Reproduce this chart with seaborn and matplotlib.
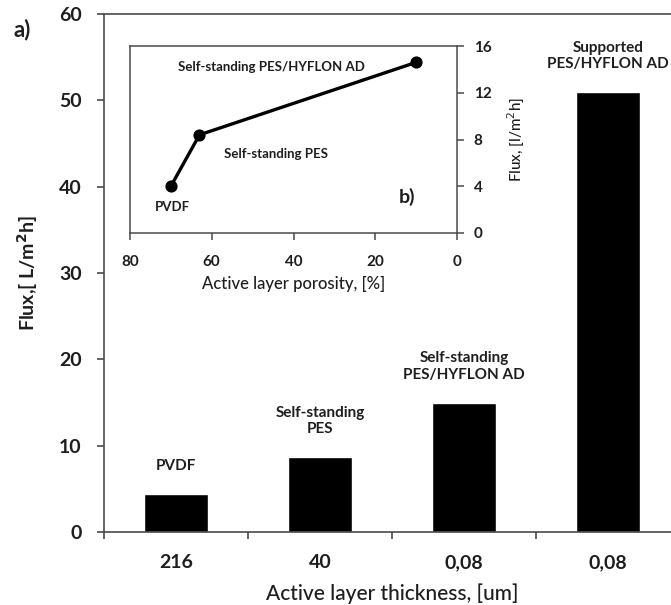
import matplotlib
matplotlib.use("Agg")
import matplotlib.pyplot as plt
import seaborn as sns
import pandas as pd

# Main chart: flux versus active layer thickness
membranes = ["PVDF", "Self-standing\nPES", "Self-standing\nPES/HYFLON AD",
             "Supported\nPES/HYFLON AD"]
thickness_labels = ["216", "40", "0,08", "0,08"]
flux = [4.4, 8.7, 15.0, 51.0]

# Inset: flux versus active layer porosity
porosity = [70, 63, 10]
porosity_flux = [4.0, 8.4, 14.6]
porosity_names = ["PVDF", "Self-standing PES", "Self-standing PES/HYFLON AD"]

sns.set_theme(style="white")
plt.rcParams["font.family"] = ["Lato", "DejaVu Sans"]
TXT = "#1e1e1e"
SPINE = "#4a4a4a"

fig = plt.figure(figsize=(6.71, 6.05), dpi=100)
ax = fig.add_axes([104 / 671, 73 / 605, 576 / 671, 518 / 605])

df = pd.DataFrame({"membrane": membranes, "flux": flux})
sns.barplot(data=df, x="membrane", y="flux", order=membranes, color="black",
            width=0.45, saturation=1, ax=ax)

ax.set_xlim(-0.5, 3.5)
ax.set_ylim(0, 60)
ax.set_yticks(range(0, 61, 10))
ax.set_xticks(range(len(membranes)))
ax.set_xticklabels(thickness_labels)
ax.set_xticks([i + 0.5 for i in range(-1, len(membranes) - 1)], minor=True)
ax.tick_params(axis="x", which="major", length=0, pad=16, labelsize=14,
               labelcolor=TXT)
ax.tick_params(axis="x", which="minor", length=5, width=1.2, color=SPINE,
               direction="out", bottom=True)
ax.tick_params(axis="y", length=5, width=1.2, color=SPINE, direction="out",
               left=True, pad=11, labelsize=14, labelcolor=TXT)
for lab in ax.get_xticklabels() + ax.get_yticklabels():
    lab.set_fontweight("bold")

for side in ["left", "bottom", "top"]:
    ax.spines[side].set_color(SPINE)
    ax.spines[side].set_linewidth(1.2)
ax.spines["right"].set_visible(False)

ax.set_xlabel("Active layer thickness, [um]", fontsize=15, color=TXT,
              labelpad=9, fontweight="medium")
ax.set_ylabel("Flux,[ L/m$^\\mathbf{2}$h]", fontsize=14, color=TXT,
              fontweight="bold", labelpad=14)

for i, (name, val) in enumerate(zip(membranes, flux)):
    ax.annotate(name, xy=(i, val), xytext=(0, 15), textcoords="offset points",
                ha="center", va="bottom", fontsize=11, fontweight="bold",
                color=TXT, linespacing=1.2)

fig.text(22 / 671, 1 - 30 / 605, "a)", fontsize=16, fontweight="bold",
         color=TXT, ha="center", va="center")

# Inset panel
ins = fig.add_axes([130 / 671, (605 - 233) / 605, 327 / 671, 187 / 605])
ins.set_facecolor("white")
sns.lineplot(x=porosity, y=porosity_flux, ax=ins, color="black", lw=2.4,
             marker="o", markersize=8, markeredgecolor="black", sort=False)
ins.set_xlim(80, 0)
ins.set_ylim(0, 16)
ins.set_xticks([80, 60, 40, 20, 0])
ins.set_yticks([0, 4, 8, 12, 16])
ins.yaxis.tick_right()
ins.yaxis.set_label_position("right")
ins.tick_params(axis="x", length=5, width=1.1, color=SPINE, direction="out",
                bottom=True, pad=11, labelsize=11, labelcolor=TXT)
ins.tick_params(axis="y", length=5, width=1.1, color=SPINE, direction="out",
                right=True, left=False, pad=7, labelsize=11, labelcolor=TXT)
for lab in ins.get_xticklabels() + ins.get_yticklabels():
    lab.set_fontweight("bold")
for side in ins.spines.values():
    side.set_color(SPINE)
    side.set_linewidth(1.1)
ins.set_xlabel("Active layer porosity, [%]", fontsize=12, color=TXT,
               labelpad=5, fontweight="medium")
ins.set_ylabel("Flux, [l/m$^2$h]", fontsize=11, color=TXT, labelpad=10,
               fontweight="medium")

label_pos = [(69.7, 2.2), (44.3, 6.8), (45.3, 14.2)]
for name, (px, py) in zip(porosity_names, label_pos):
    ins.text(px, py, name, ha="center", va="center", fontsize=9.5,
             fontweight="bold", color=TXT)
ins.text(12.2, 3.1, "b)", ha="center", va="center", fontsize=14,
         fontweight="bold", color=TXT)

fig.savefig("out.png", dpi=100)
